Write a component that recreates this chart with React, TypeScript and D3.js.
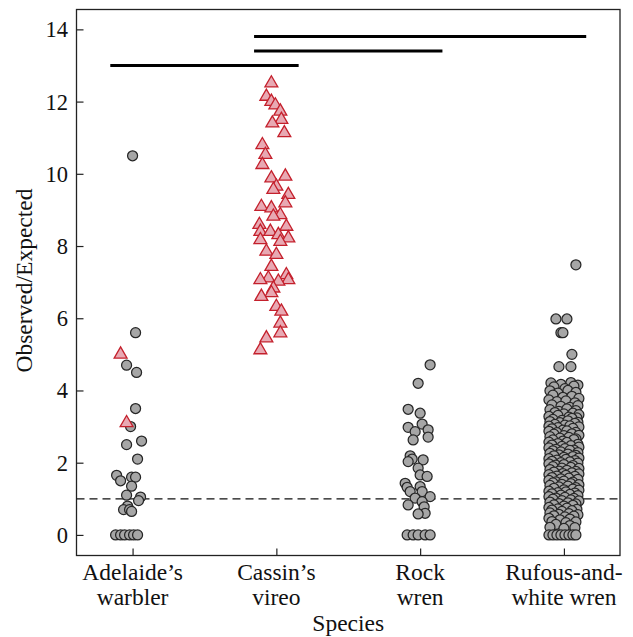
import React, { useEffect, useRef } from "react";
import * as d3 from "d3";

// two text lines per species
const categoryLines = [
  ["Adelaide\u2019s", "warbler"],
  ["Cassin\u2019s", "vireo"],
  ["Rock", "wren"],
  ["Rufous-and-", "white wren"],
];

const yTicks = [0, 2, 4, 6, 8, 10, 12, 14];

// [observed/expected, jitter] ; jitter is in 1/144 of a category
const adelaideCircles = [
  [10.5, 0], [5.6, 3], [4.7, -6], [4.5, 4], [3.5, 3], [3.0, -2], [2.5, -6], [2.6, 9],
  [2.1, 5], [1.65, -16], [1.5, -12], [1.6, -1], [1.6, 3], [1.35, -1], [1.1, -6],
  [1.05, 8], [0.95, 6], [0.8, -5], [0.7, -9], [0.7, -3], [0.65, -1],
  [0, -17], [0, -12], [0, -8], [0, -3], [0, 1], [0, 5],
];
const adelaideTriangles = [[5.0, -12], [3.1, -6]];

const cassinTriangles = [
  [12.51, -5], [12.14, -10], [12.0, -5], [11.9, -1], [11.73, 4], [11.5, 5], [11.4, -4],
  [11.13, 8], [10.8, -14], [10.53, -11], [10.25, -14], [9.88, -5], [9.93, 9], [9.65, 0],
  [9.56, -3], [9.42, 12], [9.19, 9], [9.09, -15], [9.05, -5], [8.86, 4], [8.82, -3],
  [8.59, -17], [8.54, 10], [8.4, -16], [8.4, -6], [8.31, 2], [8.22, 12], [8.17, -16],
  [8.12, 4], [7.85, -10], [7.76, 0], [7.43, -5], [7.11, -8], [7.2, 10], [7.06, -16],
  [7.06, 12], [7.02, 2], [6.83, -3], [6.7, -5], [6.6, -15], [6.32, 0], [6.19, 5],
  [5.86, 4], [5.59, 4], [5.45, -10], [5.12, -16],
];

const rockCircles = [
  [4.71, 10], [4.2, -2], [3.48, -12], [3.37, 0], [3.07, 2], [2.98, -12], [2.86, -5],
  [2.91, 8], [2.71, 8], [2.63, -7], [2.19, -10], [2.1, -8], [2.08, 3], [2.03, -12],
  [1.85, -2], [1.66, 0], [1.62, 7], [1.43, -15], [1.32, -13], [1.34, 0], [1.2, -10],
  [1.2, 2], [1.06, 10], [1.02, -5], [0.83, -12], [0.92, 2], [0.78, 4], [0.6, 5],
  [0.58, -2], [0, -13], [0, -7], [0, -2], [0, 5], [0, 10],
];

const rufousCircles = [
  [7.48, 12], [5.98, -8], [5.98, 3], [5.6, -3], [5.6, -1], [5.0, 8], [4.66, -5], [4.66, 7],
  [4.21, -13], [4.17, -3], [4.22, 7], [4.15, 14], [4.1, -10], [4.05, 1], [4.12, 10],
  [3.99, -14], [3.93, -6], [4.0, 4], [3.95, 12], [3.87, -11], [3.81, -1], [3.84, 8],
  [3.78, 15], [3.74, -15], [3.69, -7], [3.71, 2], [3.66, 11], [3.6, -12], [3.56, -3],
  [3.53, 6], [3.58, 14], [3.47, -14], [3.42, -5], [3.49, 3], [3.44, 12], [3.39, -9],
  [3.35, 0], [3.37, 9], [3.33, 15], [3.28, -15], [3.31, -6], [3.26, 5], [3.24, 13],
  [3.2, -11], [3.17, -2], [3.23, 8], [3.14, -14], [3.11, -4], [3.16, 4], [3.12, 14],
  [3.06, -9], [3.04, 1], [3.09, 11], [3.01, -15], [2.97, -6], [3.02, 6], [2.99, 15],
  [2.94, -12], [2.9, -1], [2.95, 9], [2.87, -15], [2.83, -7], [2.88, 3], [2.84, 12],
  [2.79, -10], [2.75, 0], [2.8, 8], [2.76, 15], [2.72, -14], [2.68, -4], [2.7, 5],
  [2.66, 12], [2.63, -11], [2.6, -1], [2.64, 10], [2.57, -15], [2.53, -6], [2.56, 3],
  [2.51, 14], [2.49, -12], [2.45, -2], [2.47, 7], [2.43, 15], [2.41, -15], [2.37, -8],
  [2.39, 1], [2.35, 10], [2.33, -11], [2.3, -3], [2.34, 6], [2.28, 14], [2.26, -14],
  [2.22, -5], [2.24, 4], [2.2, 12], [2.19, -10], [2.15, 0], [2.17, 9], [2.13, 15],
  [2.11, -15], [2.07, -7], [2.09, 2], [2.06, 11], [2.04, -12], [2.0, -3], [2.02, 6],
  [1.99, 14], [1.97, -15], [1.93, -8], [1.95, 0], [1.92, 9], [1.89, -11], [1.85, -2],
  [1.87, 7], [1.84, 15], [1.81, -14], [1.77, -5], [1.79, 3], [1.76, 12], [1.74, -10],
  [1.7, -1], [1.72, 8], [1.69, 15], [1.67, -15], [1.63, -7], [1.65, 2], [1.62, 11],
  [1.59, -12], [1.55, -3], [1.57, 5], [1.54, 14], [1.51, -15], [1.47, -8], [1.49, 0],
  [1.46, 9], [1.44, -11], [1.4, -2], [1.42, 7], [1.39, 15], [1.37, -14], [1.33, -5],
  [1.35, 4], [1.31, 12], [1.29, -10], [1.25, 0], [1.27, 9], [1.24, 15], [1.21, -15],
  [1.17, -6], [1.19, 2], [1.16, 11], [1.14, -12], [1.1, -3], [1.12, 6], [1.09, 14],
  [1.06, -15], [1.02, -8], [1.04, 1], [1.01, 10], [0.99, -11], [0.95, -2], [0.97, 7],
  [0.94, 15], [0.91, -14], [0.87, -5], [0.89, 4], [0.86, 12], [0.83, -10], [0.8, 0],
  [0.82, 9], [0.76, -15], [0.72, -6], [0.74, 3], [0.71, 13], [0.69, -12], [0.65, -2],
  [0.67, 8], [0.61, -14], [0.57, -5], [0.59, 5], [0.56, 14], [0.53, -10], [0.5, 1],
  [0.52, 10], [0.46, -15], [0.42, -4], [0.44, 6], [0.37, -12], [0.34, 2], [0.36, 12],
  [0.29, -8], [0.26, 6], [0.21, -14], [0.18, 0], [0.2, 11],
  [0, -15], [0, -11], [0, -7], [0, -3], [0, 1], [0, 5], [0, 9], [0, 12],
];

// pairwise significant differences: [from, to, height]
const comparisons = [
  [0, 1, 13.0],
  [1, 2, 13.4],
  [1, 3, 13.8],
];

const expectedRatio = 1;

const W = 633;
const H = 637;
const FONT = "'Liberation Serif', 'Times New Roman', serif";

function App() {
  const ref = useRef<SVGSVGElement>(null);

  useEffect(() => {
    const svg = d3.select(ref.current);
    svg.selectAll("*").remove();

    const left = 76.5;
    const right = 620;
    const top = 9.5;
    const bottom = 555.5;
    const jitterUnit = 144;

    const x = d3.scaleLinear().domain([-0.39, 3.39]).range([left, right]);
    const y = d3.scaleLinear().domain([-0.57, 14.55]).range([bottom, top]);

    const circles: { cat: number; v: number; j: number }[] = [];
    adelaideCircles.forEach(d => circles.push({ cat: 0, v: d[0], j: d[1] }));
    rockCircles.forEach(d => circles.push({ cat: 2, v: d[0], j: d[1] }));
    rufousCircles.forEach(d => circles.push({ cat: 3, v: d[0], j: d[1] }));

    const triangles: { cat: number; v: number; j: number }[] = [];
    adelaideTriangles.forEach(d => triangles.push({ cat: 0, v: d[0], j: d[1] }));
    cassinTriangles.forEach(d => triangles.push({ cat: 1, v: d[0], j: d[1] }));

    const px = (d: { cat: number; j: number }) => x(d.cat + d.j / jitterUnit);

    // axes (ticks point inward)
    const yAxis = d3
      .axisLeft(y)
      .tickValues(yTicks)
      .tickSizeInner(-7)
      .tickSizeOuter(0)
      .tickPadding(8.5);
    const gy = svg.append("g").attr("transform", "translate(" + left + ",0)").call(yAxis);
    gy.select(".domain").remove();
    gy.selectAll("line").attr("stroke", "#222").attr("stroke-width", 1.2);
    gy.selectAll("text")
      .attr("font-family", FONT)
      .attr("font-size", 22.5)
      .attr("fill", "#111")
      .attr("dy", "0.33em");

    const xAxis = d3
      .axisBottom(x)
      .tickValues([0, 1, 2, 3])
      .tickSizeInner(-7)
      .tickSizeOuter(0)
      .tickFormat(() => "");
    const gx = svg.append("g").attr("transform", "translate(0," + bottom + ")").call(xAxis);
    gx.select(".domain").remove();
    gx.selectAll("line").attr("stroke", "#222").attr("stroke-width", 1.2);

    // frame
    svg
      .append("rect")
      .attr("x", left)
      .attr("y", top)
      .attr("width", right - left)
      .attr("height", bottom - top)
      .attr("fill", "none")
      .attr("stroke", "#222")
      .attr("stroke-width", 1.3);

    // expected = observed line
    svg
      .append("line")
      .attr("x1", left)
      .attr("x2", right)
      .attr("y1", y(expectedRatio))
      .attr("y2", y(expectedRatio))
      .attr("stroke", "#111")
      .attr("stroke-width", 1.3)
      .attr("stroke-dasharray", "8,5");

    svg
      .append("g")
      .selectAll("line")
      .data(comparisons)
      .enter()
      .append("line")
      .attr("x1", d => x(d[0] - 0.155))
      .attr("x2", d => x(d[1] + 0.155))
      .attr("y1", d => y(d[2]))
      .attr("y2", d => y(d[2]))
      .attr("stroke", "#000")
      .attr("stroke-width", 3);

    svg
      .append("g")
      .selectAll("circle")
      .data(circles)
      .enter()
      .append("circle")
      .attr("cx", px)
      .attr("cy", d => y(d.v))
      .attr("r", 5)
      .attr("fill", "#a6a6a6")
      .attr("stroke", "#262626")
      .attr("stroke-width", 1.25);

    const tri = d3.symbol().type(d3.symbolTriangle).size(72);
    svg
      .append("g")
      .selectAll("path")
      .data(triangles)
      .enter()
      .append("path")
      .attr("d", tri)
      .attr("transform", d => "translate(" + px(d) + "," + y(d.v) + ")")
      .attr("fill", "#e8a9b3")
      .attr("stroke", "#c4202c")
      .attr("stroke-width", 1.3);

    // category labels
    const lab = svg
      .append("g")
      .selectAll("text")
      .data(categoryLines)
      .enter()
      .append("text")
      .attr("font-family", FONT)
      .attr("font-size", 23.5)
      .attr("fill", "#111")
      .attr("text-anchor", "middle");
    lab
      .selectAll("tspan")
      .data((d, i) => d.map(t => ({ t, i })))
      .enter()
      .append("tspan")
      .attr("x", d => x(d.i))
      .attr("y", (d, k) => 579.5 + k * 25.5)
      .text(d => d.t);

    svg
      .append("text")
      .attr("x", (left + right) / 2)
      .attr("y", 631)
      .attr("text-anchor", "middle")
      .attr("font-family", FONT)
      .attr("font-size", 23.5)
      .attr("fill", "#111")
      .text("Species");

    svg
      .append("text")
      .attr("transform", "translate(32,280.5) rotate(-90)")
      .attr("text-anchor", "middle")
      .attr("font-family", FONT)
      .attr("font-size", 23.5)
      .attr("fill", "#111")
      .text("Observed/Expected");
  }, []);

  return (
    <svg
      ref={ref}
      width={W}
      height={H}
      style={{ position: "absolute", left: 0, top: 0, background: "#fff" }}
    />
  );
}

export default App;
